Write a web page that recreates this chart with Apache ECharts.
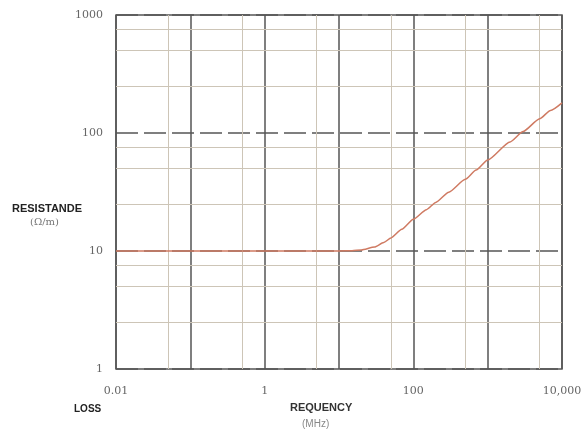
<!DOCTYPE html>
<html>
<head>
<meta charset="utf-8">
<script src="https://cdn.jsdelivr.net/npm/echarts@6/dist/echarts.min.js"></script>
<style>
  html, body { margin: 0; padding: 0; background: #fff; }
  #chart { width: 588px; height: 439px; }
</style>
</head>
<body>
<div id="chart"></div>
<script>
// frequency (MHz) and resistance
var freq = [0.01, 1, 10, 15, 20, 30, 40, 50, 70, 100, 150, 200, 300, 500, 700, 1000, 2000, 3000, 5000, 7000, 10000];
var resistance = [10, 10, 10, 10.05, 10.2, 10.8, 11.8, 12.9, 15.3, 18.6, 22.4, 25.8, 31.5, 40.5, 48.5, 59, 84, 103, 132, 155, 180];

// tick labels, one per decade from 0.01 up
var xTickLabels = ['0.01', '', '1', '', '100', '', '10,000'];
var yTickLabels = ['1', '10', '100', '1000'];

// light grid lines between the decades
var xMinorLines = [0.05, 0.5, 5, 50, 500, 5000];
var yMinorLines = [2.5, 5, 7.5, 25, 50, 75, 250, 500, 750];

function decade(v) {
    return Math.round(Math.log(v) / Math.LN10);
}

var minorData = [];
xMinorLines.forEach(function (v) { minorData.push({xAxis: v}); });
yMinorLines.forEach(function (v) { minorData.push({yAxis: v}); });

var option = {
    animation: false,
    backgroundColor: '#fff',
    grid: {
        left: 116,
        right: 26,
        top: 15,
        bottom: 70,
        show: true,
        borderColor: '#555',
        borderWidth: 1.5
    },
    xAxis: {
        type: 'log',
        logBase: 10,
        min: 0.01,
        max: 10000,
        axisLine: {show: false},
        axisTick: {show: false},
        axisLabel: {
            margin: 17,
            color: '#666',
            fontFamily: 'DejaVu Serif',
            fontSize: 11,
            showMinLabel: true,
            showMaxLabel: true,
            formatter: function (v) {
                return xTickLabels[decade(v) + 2] || '';
            }
        },
        splitLine: {
            show: true,
            lineStyle: {color: '#555', width: 1.5}
        }
    },
    yAxis: {
        type: 'log',
        logBase: 10,
        min: 1,
        max: 1000,
        axisLine: {show: false},
        axisTick: {show: false},
        axisLabel: {
            margin: 13,
            color: '#666',
            fontFamily: 'DejaVu Serif',
            fontSize: 11,
            formatter: function (v) {
                return yTickLabels[decade(v)] || '';
            }
        },
        splitLine: {
            show: true,
            lineStyle: {color: '#555', width: 1.5, type: [22, 6]}
        }
    },
    series: [
        {
            type: 'line',
            data: [],
            silent: true,
            markLine: {
                silent: true,
                symbol: 'none',
                label: {show: false},
                lineStyle: {color: '#cdc5b7', width: 1, type: 'solid'},
                data: minorData
            }
        },
        {
            name: 'resistance',
            type: 'line',
            showSymbol: false,
            smooth: 0.2,
            smoothMonotone: 'x',
            lineStyle: {color: '#cf7a62', width: 1.5},
            data: freq.map(function (f, i) { return [f, resistance[i]]; }),
            z: 5
        }
    ],
    graphic: [
        {type: 'text', left: 12, top: 203, style: {text: 'RESISTANDE', font: 'bold 11px "Liberation Sans Narrow", "Liberation Sans"', fill: '#222'}},
        {type: 'text', left: 30, top: 217, style: {text: '(Ω/m)', font: '10px "DejaVu Serif"', fill: '#777'}},
        {type: 'text', left: 74, top: 404, style: {text: 'LOSS', font: 'bold 10px "Liberation Sans Narrow", "Liberation Sans"', fill: '#222'}},
        {type: 'text', left: 290, top: 402, style: {text: 'REQUENCY', font: 'bold 11px "Liberation Sans Narrow", "Liberation Sans"', fill: '#333'}},
        {type: 'text', left: 302, top: 419, style: {text: '(MHz)', font: '10px "Liberation Sans"', fill: '#888'}}
    ]
};

var chart = document.getElementById('chart');
var chartContainer = echarts.init(chart);
chartContainer.setOption(option);
</script>
</body>
</html>
